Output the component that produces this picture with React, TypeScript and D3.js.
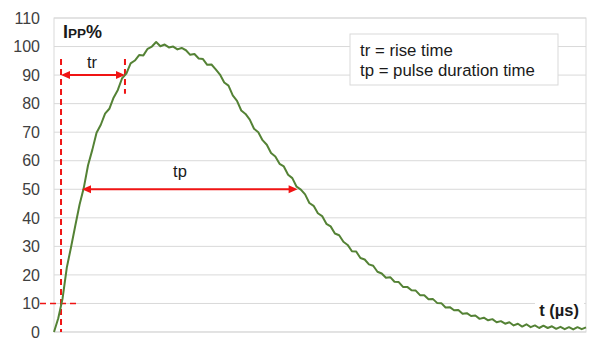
import React from "react";
import * as d3 from "d3";

// ---- Data ----
const T_START = 0; // µs
const T_STEP = 0.4; // µs between samples
const currentPct: number[] = [
  0, 4.8, 11.6, 22.5, 29.7, 37.2, 44.6, 50.5, 58.4, 63.8,
  69.8, 72.6, 76.5, 78.2, 82.1, 84.8, 88.9, 90.5, 94.1, 95.1,
  97.0, 96.9, 99.2, 100.0, 101.6, 100.1, 100.7, 99.7, 100.0, 99.0,
  99.5, 98.7, 97.1, 97.4, 95.8, 95.6, 93.6, 93.7, 92.0, 90.2,
  87.4, 86.3, 82.9, 81.0, 77.6, 76.4, 74.4, 71.2, 70.0, 67.2,
  65.6, 62.7, 61.5, 58.9, 58.0, 55.1, 53.9, 50.9, 49.9, 48.2,
  45.2, 44.2, 41.6, 40.6, 37.9, 37.0, 34.5, 33.9, 31.6, 30.5,
  28.3, 28.2, 25.9, 25.4, 23.7, 23.2, 21.1, 20.5, 19.0, 19.2,
  17.6, 17.5, 15.8, 15.8, 14.6, 14.5, 12.9, 12.9, 11.5, 11.6,
  10.2, 10.1, 8.6, 8.7, 7.6, 7.7, 6.4, 6.6, 5.6, 5.8,
  4.6, 5.0, 4.1, 4.5, 3.4, 3.8, 2.9, 3.4, 2.3, 2.9,
  1.9, 2.7, 1.7, 2.3, 1.4, 2.2, 1.4, 2.0, 1.1, 1.8,
  1.0, 1.7, 0.9, 1.7, 1.0, 1.6,
];
const yTicks: number[] = [0, 10, 20, 30, 40, 50, 60, 70, 80, 90, 100, 110];

// annotation values (µs, %)
const t10 = 0.66; // 10% crossing / origin marker
const t90 = 6.67; // 90% crossing
const tp50a = 2.63; // 50% on rise
const tp50b = 22.9; // 50% on fall
const legendLines: string[] = ["tr = rise time", "tp = pulse duration time"];

const W = 610;
const H = 352;
const FONT = "'Liberation Sans', Arial, Helvetica, sans-serif";
const RED = "#f01414";
const GRID = "#d9d9d9";

export default function App() {
  const x = d3.scaleLinear().domain([0, 50]).range([54, 586]);
  const y = d3.scaleLinear().domain([0, 110]).range([332, 18]);

  const pts: [number, number][] = currentPct.map((v, i) => [T_START + i * T_STEP, v]);
  const line = d3
    .line<[number, number]>()
    .x((d) => x(d[0]))
    .y((d) => y(d[1]));

  const arrow = (x1: number, x2: number, yy: number) => {
    const L = 9;
    const hw = 4;
    return [
      <line key="l" x1={x1 + L - 1} x2={x2 - L + 1} y1={yy} y2={yy} stroke={RED} strokeWidth={2} />,
      <path key="r" d={`M${x2},${yy} L${x2 - L},${yy - hw} L${x2 - L},${yy + hw} Z`} fill={RED} />,
      <path key="a" d={`M${x1},${yy} L${x1 + L},${yy - hw} L${x1 + L},${yy + hw} Z`} fill={RED} />,
    ];
  };

  return (
    <svg
      width={W}
      height={H}
      style={{ position: "absolute", left: 0, top: 0, background: "#fff" }}
      fontFamily={FONT}
    >
      <rect x={0} y={0} width={W} height={H} fill="#fff" />
      {/* gridlines */}
      {yTicks.map((t) => (
        <line key={t} x1={x(0)} x2={x(50)} y1={y(t)} y2={y(t)} stroke={GRID} strokeWidth={1} />
      ))}
      {/* plot border */}
      <rect x={x(0)} y={y(110)} width={x(50) - x(0)} height={y(0) - y(110)} fill="none" stroke={GRID} strokeWidth={1} />
      {/* tick labels */}
      {yTicks.map((t) => (
        <text key={"l" + t} x={40} y={y(t)} dy="0.36em" textAnchor="end" fontSize={16} fill="#404040">
          {t}
        </text>
      ))}

      {/* legend box */}
      <rect x={350} y={34} width={208} height={51} fill="#fff" stroke={GRID} strokeWidth={1} />
      {legendLines.map((s, i) => (
        <text key={s} x={360} y={56 + i * 19.5} fontSize={16.8} fill="#1a1a1a">
          {s}
        </text>
      ))}

      {/* x-axis label with white background */}
      <rect x={535} y={295} width={49} height={26} fill="#fff" />
      <text x={579} y={316} textAnchor="end" fontSize={16.5} fontWeight="bold" fill="#1a1a1a">
        t (µs)
      </text>

      {/* y-axis label */}
      <text x={63} y={38} fontWeight="bold" fill="#1a1a1a" fontSize={18}>
        I<tspan fontSize={13.5}>PP</tspan>%
      </text>

      {/* red dashed markers */}
      <line x1={x(t10)} x2={x(t10)} y1={y(95.6)} y2={y(0)} stroke={RED} strokeWidth={2} strokeDasharray="6,4" />
      <line x1={x(t90)} x2={x(t90)} y1={y(95.6)} y2={y(83.5)} stroke={RED} strokeWidth={2} strokeDasharray="6,4" />
      <line x1={40} x2={x(2.35)} y1={y(10)} y2={y(10)} stroke={RED} strokeWidth={1.5} strokeDasharray="6,4" />

      {/* curve */}
      <path d={line(pts) ?? ""} fill="none" stroke="#548235" strokeWidth={2} strokeLinejoin="round" />

      {/* arrows */}
      {arrow(x(t10), x(t90), y(90))}
      {arrow(x(tp50a), x(tp50b), y(50))}
      <text x={x(3.57)} y={y(92.6)} textAnchor="middle" fontSize={16.5} fill="#1a1a1a">
        tr
      </text>
      <text x={x(11.84)} y={y(54.3)} textAnchor="middle" fontSize={16.5} fill="#1a1a1a">
        tp
      </text>
    </svg>
  );
}
